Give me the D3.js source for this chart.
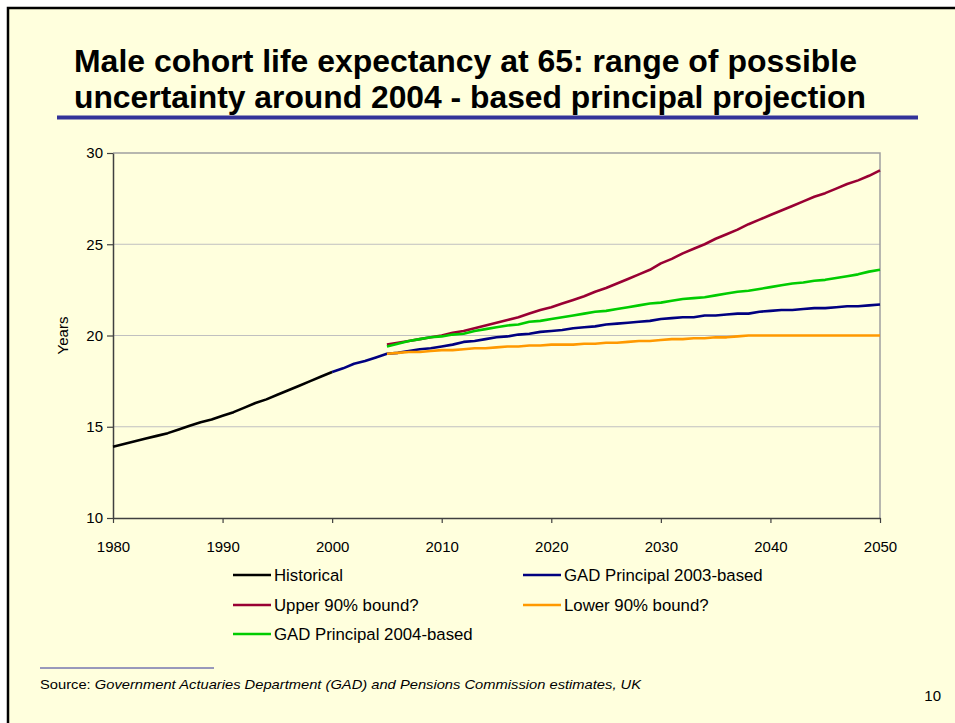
<!DOCTYPE html>
<html>
<head>
  <meta charset="utf-8">
  <title>Male cohort life expectancy at 65</title>
  <script src="https://d3js.org/d3.v7.min.js"></script>
  <style>
    body { margin: 0; background: #fff; }
    text { font-family: "Liberation Sans", Arial, sans-serif; }
  </style>
</head>
<body>
<script>
// data (years at 65, male cohort)
const histYears = d3.range(1980, 2001);
const historical = [13.9, 14.05, 14.2, 14.35, 14.5, 14.65, 14.85, 15.05, 15.25, 15.4, 15.6,
  15.8, 16.05, 16.3, 16.5, 16.75, 17.0, 17.25, 17.5, 17.75, 18.0];

const gadYears = d3.range(2000, 2051);
const gad2003 = [18.0, 18.2, 18.45, 18.6, 18.8, 19.0, 19.05, 19.15, 19.25, 19.3, 19.4,
  19.5, 19.65, 19.7, 19.8, 19.9, 19.95, 20.05, 20.1, 20.2, 20.25,
  20.3, 20.4, 20.45, 20.5, 20.6, 20.65, 20.7, 20.75, 20.8, 20.9,
  20.95, 21.0, 21.0, 21.1, 21.1, 21.15, 21.2, 21.2, 21.3, 21.35,
  21.4, 21.4, 21.45, 21.5, 21.5, 21.55, 21.6, 21.6, 21.65, 21.7];

const projYears = d3.range(2005, 2051);
const upper90 = [19.5, 19.6, 19.7, 19.8, 19.9, 20.0, 20.15, 20.25, 20.4, 20.55,
  20.7, 20.85, 21.0, 21.2, 21.4, 21.55, 21.75, 21.95, 22.15, 22.4,
  22.6, 22.85, 23.1, 23.35, 23.6, 23.95, 24.2, 24.5, 24.75, 25.0,
  25.3, 25.55, 25.8, 26.1, 26.35, 26.6, 26.85, 27.1, 27.35, 27.6,
  27.8, 28.05, 28.3, 28.5, 28.75, 29.05];
const lower90 = [19.0, 19.05, 19.1, 19.1, 19.15, 19.2, 19.2, 19.25, 19.3, 19.3,
  19.35, 19.4, 19.4, 19.45, 19.45, 19.5, 19.5, 19.5, 19.55, 19.55,
  19.6, 19.6, 19.65, 19.7, 19.7, 19.75, 19.8, 19.8, 19.85, 19.85,
  19.9, 19.9, 19.95, 20.0, 20.0, 20.0, 20.0, 20.0, 20.0, 20.0,
  20.0, 20.0, 20.0, 20.0, 20.0, 20.0];
const gad2004 = [19.4, 19.55, 19.7, 19.8, 19.9, 19.95, 20.05, 20.1, 20.25, 20.35,
  20.45, 20.55, 20.6, 20.75, 20.8, 20.9, 21.0, 21.1, 21.2, 21.3,
  21.35, 21.45, 21.55, 21.65, 21.75, 21.8, 21.9, 22.0, 22.05, 22.1,
  22.2, 22.3, 22.4, 22.45, 22.55, 22.65, 22.75, 22.85, 22.9, 23.0,
  23.05, 23.15, 23.25, 23.35, 23.5, 23.6];

const xTicks = [1980, 1990, 2000, 2010, 2020, 2030, 2040, 2050];
const yTicks = [10, 15, 20, 25, 30];

const series = [
  { name: "Historical", years: histYears, values: historical, color: "#000000" },
  { name: "GAD Principal 2003-based", years: gadYears, values: gad2003, color: "#000080" },
  { name: "Lower 90% bound?", years: projYears, values: lower90, color: "#FF9900" },
  { name: "Upper 90% bound?", years: projYears, values: upper90, color: "#990033" },
  { name: "GAD Principal 2004-based", years: projYears, values: gad2004, color: "#00CC00" }
];

const width = 955, height = 723;
const svg = d3.select("body").append("svg")
  .attr("width", width).attr("height", height);

// slide background + frame
svg.append("rect").attr("x", 8).attr("y", 8).attr("width", 960).attr("height", 730)
  .attr("fill", "#FFFFDD").attr("stroke", "#000").attr("stroke-width", 2.5);

// title (condensed look like the original)
const title = svg.append("g").attr("font-weight", "bold").attr("font-size", 30.5).attr("fill", "#000");
title.append("text").attr("x", 74).attr("y", 72)
  .attr("textLength", 783).attr("lengthAdjust", "spacingAndGlyphs")
  .text("Male cohort life expectancy at 65: range of possible");
title.append("text").attr("x", 74).attr("y", 108)
  .attr("textLength", 792).attr("lengthAdjust", "spacingAndGlyphs")
  .text("uncertainty around 2004 - based principal projection");
svg.append("line").attr("x1", 57).attr("x2", 918).attr("y1", 117.5).attr("y2", 117.5)
  .attr("stroke", "#333399").attr("stroke-width", 4);

// scales
const x = d3.scaleLinear().domain([1980, 2050]).range([113, 880]);
const y = d3.scaleLinear().domain([10, 30]).range([518, 153]);

// gridlines and frame of plot area
svg.append("g").selectAll("line").data(yTicks.filter(d => d > 10 && d < 30)).join("line")
  .attr("x1", x(1980)).attr("x2", x(2050))
  .attr("y1", d => y(d)).attr("y2", d => y(d))
  .attr("stroke", "#C0C0C0").attr("stroke-width", 1);
svg.append("path")
  .attr("d", `M${x(1980)},${y(30)}H${x(2050)}V${y(10)}`)
  .attr("fill", "none").attr("stroke", "#A0A0A0").attr("stroke-width", 1.5);

// axes
const yAxis = svg.append("g").attr("transform", `translate(${x(1980)},0)`)
  .call(d3.axisLeft(y).tickValues(yTicks).tickSize(6).tickPadding(4).tickSizeOuter(0));
const xAxis = svg.append("g").attr("transform", `translate(0,${y(10)})`)
  .call(d3.axisBottom(x).tickValues(xTicks).tickFormat(d3.format("d")).tickSize(5).tickPadding(18).tickSizeOuter(0));
[xAxis, yAxis].forEach(a => {
  a.select(".domain").attr("stroke", "#404040").attr("stroke-width", 1.5);
  a.selectAll(".tick line").attr("stroke", "#404040").attr("stroke-width", 1.2);
  a.selectAll(".tick text").attr("font-size", 15).attr("fill", "#000")
    .attr("font-family", "'Liberation Sans', Arial, sans-serif");
});

svg.append("text").attr("transform", `translate(68,${y(20)}) rotate(-90)`)
  .attr("text-anchor", "middle").attr("font-size", 15).text("Years");

// lines
const line = d3.line().x(d => x(d[0])).y(d => y(d[1]));
svg.append("g").selectAll("path").data(series).join("path")
  .attr("d", s => line(s.years.map((yr, i) => [yr, s.values[i]])))
  .attr("fill", "none").attr("stroke", s => s.color)
  .attr("stroke-width", 2.6).attr("stroke-linejoin", "round");

// legend
const legendItems = [
  { s: series[0], lx: 233, ly: 575 },
  { s: series[1], lx: 523, ly: 575 },
  { s: series[3], lx: 233, ly: 605 },
  { s: series[2], lx: 523, ly: 605 },
  { s: series[4], lx: 233, ly: 634 }
];
const lg = svg.append("g").selectAll("g").data(legendItems).join("g")
  .attr("transform", d => `translate(${d.lx},${d.ly})`);
lg.append("line").attr("x1", 0).attr("x2", 38)
  .attr("stroke", d => d.s.color).attr("stroke-width", 2.6);
lg.append("text").attr("x", 41).attr("y", 6).attr("font-size", 16.8).text(d => d.s.name);

// source note
svg.append("line").attr("x1", 40).attr("x2", 214).attr("y1", 668).attr("y2", 668)
  .attr("stroke", "#333399").attr("stroke-width", 1);
const src = svg.append("text").attr("x", 40).attr("y", 689).attr("font-size", 13.5)
  .attr("textLength", 601).attr("lengthAdjust", "spacingAndGlyphs");
src.append("tspan").text("Source: ");
src.append("tspan").attr("font-style", "italic")
  .text("Government Actuaries Department (GAD) and Pensions Commission estimates, UK");
svg.append("text").attr("x", 941).attr("y", 701).attr("text-anchor", "end")
  .attr("font-size", 15).text("10");
</script>
</body>
</html>
